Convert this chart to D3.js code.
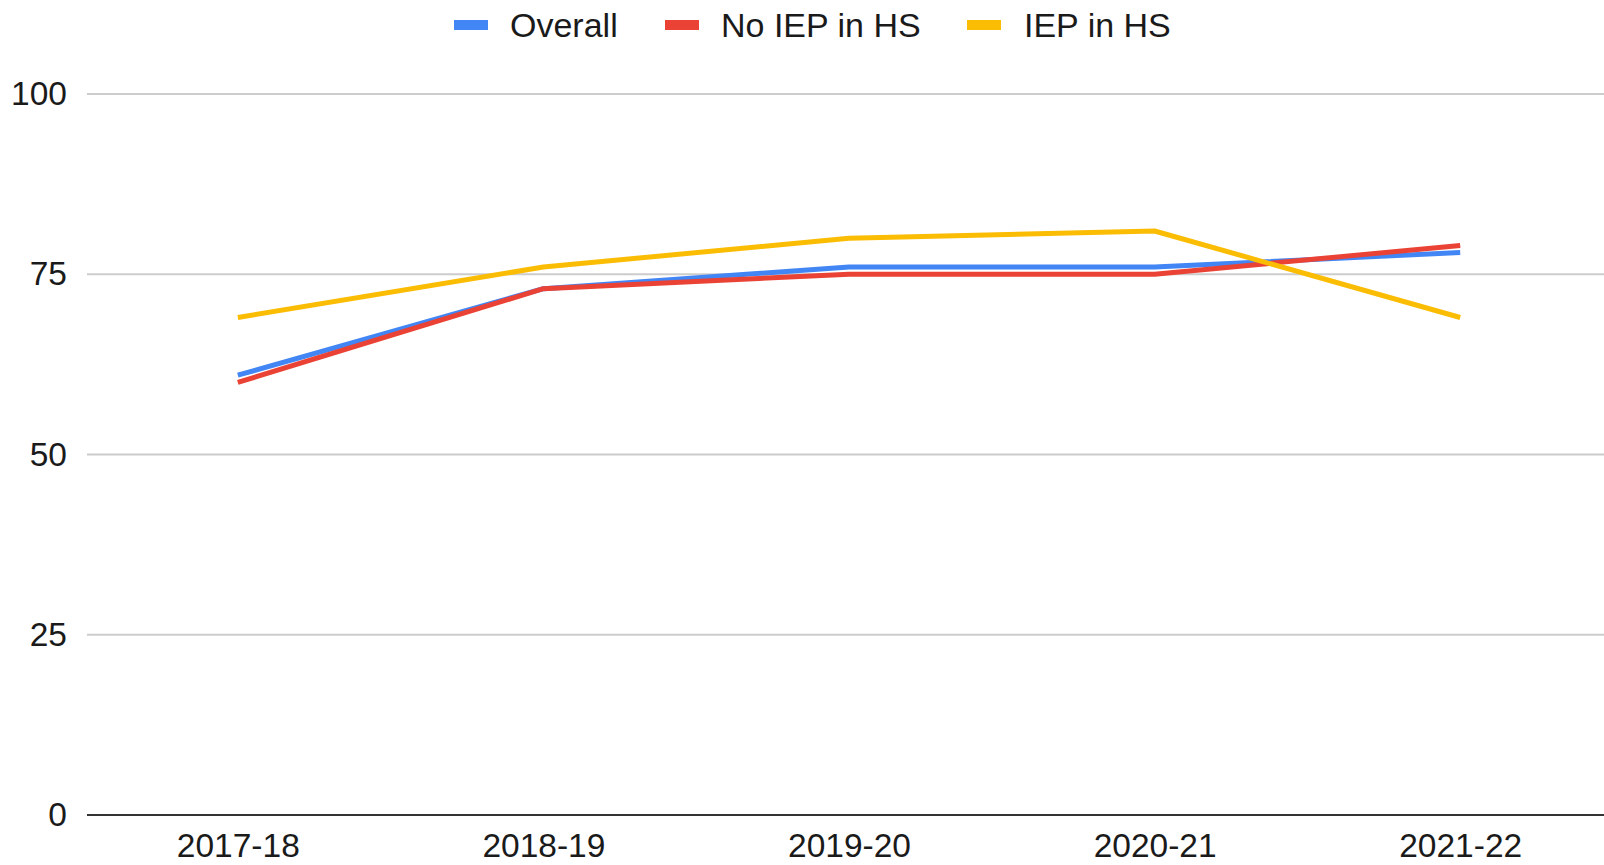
<!DOCTYPE html>
<html>
<head>
<meta charset="utf-8">
<script src="https://cdn.jsdelivr.net/npm/d3@7"></script>
<style>
  html, body { margin: 0; padding: 0; background: #fff; }
  svg { display: block; }
  text { font-family: "Liberation Sans", Arial, Helvetica, sans-serif; fill: #1a1a1a; }
</style>
</head>
<body>
<svg id="chart" width="1604" height="865"></svg>
<script>
const categories = ["2017-18", "2018-19", "2019-20", "2020-21", "2021-22"];
const seriesNames = ["Overall", "No IEP in HS", "IEP in HS"];
const seriesColors = ["#4285F4", "#EA4335", "#FBBC04"];
const overall = [61, 73, 76, 76, 78];
const noIep = [60, 73, 75, 75, 79];
const iep = [69, 76, 80, 81, 69];
const yTicks = [0, 25, 50, 75, 100];

const seriesValues = [overall, noIep, iep];

const plotLeft = 87, plotRight = 1604, plotTop = 94, plotBottom = 815;

const svg = d3.select("#chart");

const x = d3.scalePoint().domain(categories).range([plotLeft - 2, plotRight + 9]).padding(0.5);
const y = d3.scaleLinear().domain([0, 100]).range([plotBottom, plotTop]);

// gridlines
svg.append("g").selectAll("line").data(yTicks.filter(t => t !== 0)).join("line")
  .attr("x1", plotLeft).attr("x2", plotRight)
  .attr("y1", d => y(d)).attr("y2", d => y(d))
  .attr("stroke", "#cccccc").attr("stroke-width", 2);

// y labels
const yAxis = svg.append("g").attr("transform", `translate(${plotLeft},0)`)
  .call(d3.axisLeft(y).tickValues(yTicks).tickSize(0).tickPadding(20).tickFormat(d3.format("d")));
yAxis.select(".domain").remove();
yAxis.selectAll("text").style("font-size", "33.5px").attr("fill", "#1a1a1a")
  .style("font-family", '"Liberation Sans", Arial, sans-serif');

// x axis
const xAxis = svg.append("g").attr("transform", `translate(0,${plotBottom})`)
  .call(d3.axisBottom(x).tickSize(0).tickPadding(18));
xAxis.select(".domain").remove();
xAxis.selectAll("text").style("font-size", "33.5px").attr("fill", "#1a1a1a")
  .style("font-family", '"Liberation Sans", Arial, sans-serif');

// baseline
svg.append("line").attr("x1", plotLeft).attr("x2", plotRight)
  .attr("y1", y(0)).attr("y2", y(0))
  .attr("stroke", "#333").attr("stroke-width", 2);

// lines
const line = d3.line().x((d, i) => x(categories[i])).y(d => y(d));
svg.append("g").selectAll("path").data(seriesValues).join("path")
  .attr("d", d => line(d))
  .attr("fill", "none")
  .attr("stroke", (d, i) => seriesColors[i])
  .attr("stroke-width", 5)
  .attr("stroke-linejoin", "round");

// legend
const legendItems = [
  { sx: 454, tx: 510 },
  { sx: 665, tx: 721 },
  { sx: 967, tx: 1024 }
];
const lg = svg.append("g");
seriesNames.forEach((name, i) => {
  lg.append("rect").attr("x", legendItems[i].sx).attr("y", 20).attr("width", 34).attr("height", 10)
    .attr("fill", seriesColors[i]);
  lg.append("text").attr("x", legendItems[i].tx).attr("y", 25).attr("dy", "0.35em")
    .style("font-size", "34px").text(name);
});
</script>
</body>
</html>
